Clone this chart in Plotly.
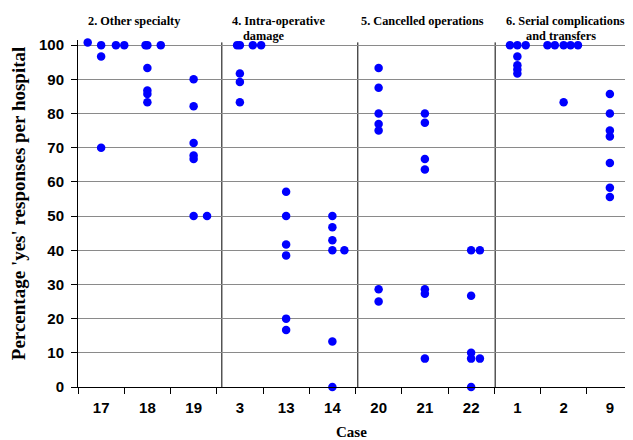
import plotly.graph_objects as go

# Case categories (x axis order)
case_labels = ["17", "18", "19", "3", "13", "14", "20", "21", "22", "1", "2", "9"]

# Each point: case, percentage, small horizontal jitter (fraction of a category)
point_case = (["17"] * 6 + ["18"] * 7 + ["19"] * 7 + ["3"] * 7 + ["13"] * 6 + ["14"] * 7 +
              ["20"] * 7 + ["21"] * 7 + ["22"] * 7 + ["1"] * 7 + ["2"] * 6 + ["9"] * 7)
point_value = [
    100.8, 100, 100, 100, 96.7, 70,                 # 17
    100, 100, 100, 93.3, 86.7, 85.7, 83.3,          # 18
    90, 82.1, 71.4, 67.7, 66.7, 50, 50,             # 19
    100, 100, 100, 100, 91.7, 89.2, 83.3,           # 3
    57.1, 50, 41.7, 38.5, 20, 16.7,                 # 13
    50, 46.7, 42.9, 40, 40, 13.3, 0,                # 14
    93.3, 87.5, 80, 76.9, 75, 28.6, 25,             # 20
    80, 77.3, 66.7, 63.6, 28.6, 27.3, 8.3,          # 21
    40, 40, 26.7, 10, 8.3, 8.3, 0,                  # 22
    100, 100, 100, 96.7, 94.1, 92.9, 91.7,          # 1
    100, 100, 100, 100, 100, 83.3,                  # 2
    85.7, 80, 75, 73.3, 65.5, 58.3, 55.6,           # 9
]
point_jitter = [
    -0.29, 0, 0.32, 0.50, 0, 0,
    -0.04, 0, 0.29, 0, 0, 0, 0,
    0, 0, 0, 0, 0, 0, 0.29,
    -0.06, 0, 0.28, 0.46, 0, 0, 0,
    0, 0, 0, 0, 0, 0,
    0, 0, 0, 0, 0.26, 0, 0,
    0, 0, 0, 0, 0, 0, 0,
    0, 0, 0, 0, 0, 0, 0,
    0, 0.19, 0, 0, 0, 0.19, 0,
    -0.16, 0, 0.18, 0, 0, 0, 0,
    -0.35, -0.19, 0, 0.15, 0.31, 0,
    0, 0, 0, 0, 0, 0, 0,
]

# Group titles and the cases at which group boundaries fall
group_titles = ["2. Other specialty", "4. Intra-operative", "damage",
                "5. Cancelled operations", "6. Serial complications", "and transfers"]
group_title_x = [0.73, 3.83, 3.53, 6.95, 10.03, 9.94]
group_title_row = [0, 0, 1, 0, 0, 1]
group_dividers = [2.61, 5.55, 8.52]

y_ticks = list(range(0, 101, 10))

idx = {c: i for i, c in enumerate(case_labels)}
xs = [idx[c] + j for c, j in zip(point_case, point_jitter)]

fig = go.Figure()
fig.add_trace(go.Scatter(
    x=xs, y=point_value, mode="markers",
    marker=dict(color="#0000FF", size=8.5, line=dict(width=0)),
    cliponaxis=False, showlegend=False,
))

for d in group_dividers:
    fig.add_shape(type="line", xref="x", yref="y", x0=d, x1=d, y0=0, y1=100.8,
                  line=dict(color="black", width=1), layer="below")

for t, gx, row in zip(group_titles, group_title_x, group_title_row):
    fig.add_annotation(x=gx, y=1.055 if row == 0 else 1.012, xref="x", yref="paper",
                       text="<b>" + t + "</b>", showarrow=False,
                       font=dict(family="Liberation Serif", size=12.3, color="black"),
                       xanchor="center", yanchor="middle")

fig.add_annotation(x=-0.108, y=0.527, xref="paper", yref="paper", textangle=-90,
                   text="<b>Percentage 'yes' responses per hospital</b>", showarrow=False,
                   font=dict(family="Liberation Serif", size=19, color="black"),
                   xanchor="center", yanchor="middle")
fig.add_annotation(x=0.493, y=-0.13, xref="paper", yref="paper",
                   text="<b>Case</b>", showarrow=False,
                   font=dict(family="Liberation Serif", size=15, color="black"),
                   xanchor="center", yanchor="middle")

fig.update_layout(
    width=625, height=432,
    margin=dict(l=70, r=0, t=32, b=53),
    paper_bgcolor="white", plot_bgcolor="white",
    font=dict(family="Liberation Sans", color="black"),
    xaxis=dict(
        range=[-0.5, 11.5], tickvals=list(range(len(case_labels))), ticktext=case_labels,
        ticks="", showgrid=False, zeroline=False, automargin=False,
        showline=True, linecolor="black", linewidth=1,
        tickfont=dict(family="Liberation Sans", size=15, color="black", weight="bold"),
        ticklabelstandoff=7,
        minor=dict(tick0=-0.5, dtick=1, ticks="outside", ticklen=6, tickcolor="black", showgrid=False),
    ),
    yaxis=dict(
        range=[0, 101.5], tickvals=y_ticks, ticks="outside", ticklen=6, tickcolor="black",
        showgrid=True, gridcolor="#8a8a8a", gridwidth=1, zeroline=False, automargin=False,
        showline=True, linecolor="black", linewidth=1,
        tickfont=dict(family="Liberation Sans", size=15, color="black", weight="bold"),
        ticklabelstandoff=4,
    ),
)

fig.write_html("out.html")
